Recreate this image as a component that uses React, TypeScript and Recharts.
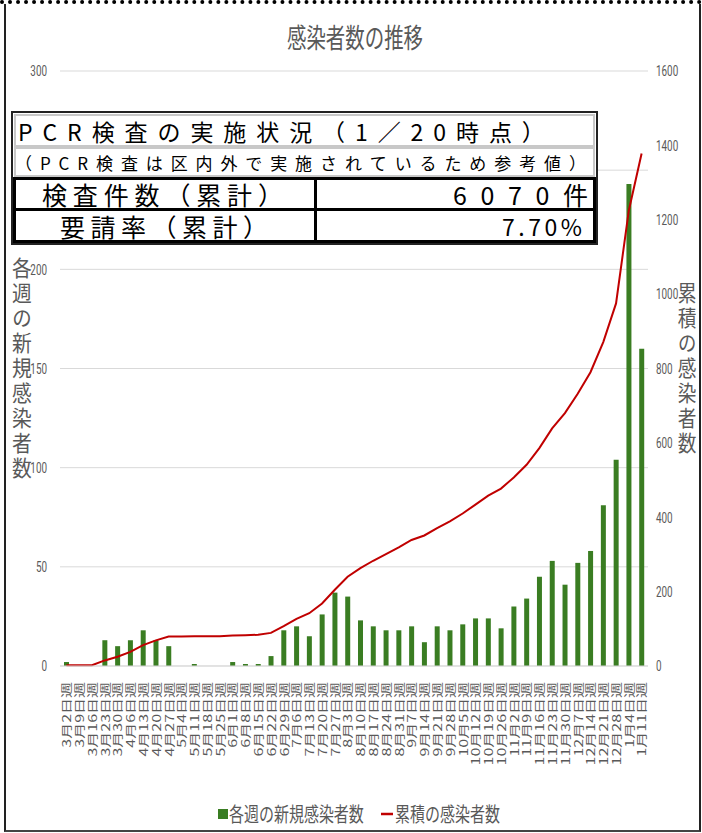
import React from 'react';
import { ComposedChart, Bar, Line, XAxis, YAxis, CartesianGrid } from 'recharts';

const weeks = [
  '3月2日週', '3月9日週', '3月16日週', '3月23日週', '3月30日週',
  '4月6日週', '4月13日週', '4月20日週', '4月27日週',
  '5月4日週', '5月11日週', '5月18日週', '5月25日週',
  '6月1日週', '6月8日週', '6月15日週', '6月22日週', '6月29日週',
  '7月6日週', '7月13日週', '7月20日週', '7月27日週',
  '8月3日週', '8月10日週', '8月17日週', '8月24日週', '8月31日週',
  '9月7日週', '9月14日週', '9月21日週', '9月28日週',
  '10月5日週', '10月12日週', '10月19日週', '10月26日週',
  '11月2日週', '11月9日週', '11月16日週', '11月23日週', '11月30日週',
  '12月7日週', '12月14日週', '12月21日週', '12月28日週',
  '1月4日週', '1月11日週',
];

const weeklyCases = [
  2, 0, 0, 13, 10, 13, 18, 13, 10, 0, 1, 0, 0, 2, 1, 1, 5, 18, 20, 15, 26, 37, 35,
  23, 20, 18, 18, 20, 12, 20, 18, 21, 24, 24, 19, 30, 34, 45, 53, 41, 52, 58, 81, 104, 243, 160,
];

const cumulativeCases = [
  2, 2, 2, 15, 25, 38, 56, 69, 79, 79, 80, 80, 80, 82, 83, 84, 89, 107, 127, 142, 168, 205, 240,
  263, 283, 301, 319, 339, 351, 371, 389, 410, 434, 458, 477, 507, 541, 586, 639, 680, 732, 790, 871, 975, 1225, 1378,
];

const leftTicks = [0, 50, 100, 150, 200, 250, 300];
const rightTicks = [0, 200, 400, 600, 800, 1000, 1200, 1400, 1600];

const titleText = '感染者数の推移';
const leftTitle = '各週の新規感染者数';
const rightTitle = '累積の感染者数';
const pcrTitle = 'PCR検査の実施状況（1／20時点）';
const pcrNote = '（PCR検査は区内外で実施されているため参考値）';
const rowLabels = ['検査件数（累計）', '要請率（累計）'];
const rowValues = ['6070件', '7.70%'];

const data = weeks.map((week, i) => ({ week, weekly: weeklyCases[i], total: cumulativeCases[i] }));

const JP = '"Noto Sans CJK JP", "Noto Sans", sans-serif';
const GRAY = '#595959';

// vertical week labels, squeezed across so neighbours don't touch
const WeekTick = ({ x, y, payload }: any) => (
  <text
    x={0}
    y={0}
    transform={`translate(${x},${y}) rotate(-90) scale(1,0.7)`}
    textAnchor="end"
    dominantBaseline="central"
    fontSize={16}
    fill={GRAY}
    fontFamily={JP}
  >
    {payload.value}
  </text>
);

const NumTick = ({ x, y, payload, anchor }: any) => (
  <text
    x={0}
    y={0}
    transform={`translate(${x},${y}) scale(0.66,1)`}
    textAnchor={anchor}
    dominantBaseline="central"
    fontSize={15}
    fill={GRAY}
    fontFamily="Roboto, sans-serif"
  >
    {payload.value}
  </text>
);

// spreads characters evenly over a box, like the Excel cells
const Spread = ({ text, left, top, width, height, size, bold }: any) => (
  <div
    style={{
      position: 'absolute', left, top, width, height, display: 'flex',
      justifyContent: 'space-between', alignItems: 'center', fontSize: size,
      fontFamily: JP, color: '#000', fontWeight: bold ? 700 : 400, lineHeight: 1,
    }}
  >
    {Array.from(text as string).map((ch, i) => <span key={i}>{ch}</span>)}
  </div>
);

const Cell = ({ left, top, width, height, border }: any) => (
  <div style={{ position: 'absolute', left, top, width, height, border, boxSizing: 'border-box' }} />
);

export default function App() {
  return (
    <div style={{ position: 'absolute', left: 0, top: 0, width: 702, height: 833, background: '#fff', overflow: 'hidden' }}>
      <div style={{ position: 'absolute', left: 0, top: 0, width: 702, height: 0, borderTop: '4px dotted #000' }} />
      <div style={{ position: 'absolute', left: 4, top: 4, width: 697, height: 828, borderLeft: '2px solid #222', borderRight: '2px solid #222', borderBottom: '2px solid #444', boxSizing: 'border-box' }} />

      <div style={{ position: 'absolute', left: 0, top: 0 }}>
        <ComposedChart width={702} height={833} data={data} margin={{ top: 71, right: 0, bottom: 0, left: 0 }}>
          <CartesianGrid yAxisId="left" vertical={false} stroke="#d9d9d9" />
          <XAxis
            dataKey="week"
            interval={0}
            height={167}
            tickLine={false}
            axisLine={{ stroke: '#d9d9d9' }}
            tickSize={6}
            tickMargin={10}
            tick={<WeekTick />}
          />
          <YAxis
            yAxisId="left"
            domain={[0, 300]}
            ticks={leftTicks}
            width={60}
            axisLine={false}
            tickLine={false}
            tickSize={8}
            tickMargin={5}
            tick={<NumTick anchor="end" />}
          />
          <YAxis
            yAxisId="right"
            orientation="right"
            domain={[0, 1600]}
            ticks={rightTicks}
            width={54}
            axisLine={false}
            tickLine={false}
            tickSize={4}
            tickMargin={4}
            tick={<NumTick anchor="start" />}
          />
          <Bar yAxisId="left" dataKey="weekly" fill="#3a7d22" barSize={5} isAnimationActive={false} />
          <Line yAxisId="right" type="linear" dataKey="total" stroke="#c00000" strokeWidth={2} dot={false} isAnimationActive={false} />
        </ComposedChart>
      </div>

      <svg width={702} height={833} style={{ position: 'absolute', left: 0, top: 0, pointerEvents: 'none' }}>
        <text transform="translate(355,48) scale(0.72,1)" textAnchor="middle" fontSize={27} fill={GRAY} fontFamily={JP}>
          {titleText}
        </text>
        <rect x={218} y={809} width={10} height={10} fill="#3a7d22" />
        <text transform="translate(229,822) scale(0.75,1)" fontSize={20} fill={GRAY} fontFamily={JP}>
          {leftTitle}
        </text>
        <line x1={381} x2={393} y1={814} y2={814} stroke="#c00000" strokeWidth={2.5} />
        <text transform="translate(395,822) scale(0.75,1)" fontSize={20} fill={GRAY} fontFamily={JP}>
          {rightTitle}
        </text>
      </svg>

      <div style={{ position: 'absolute', left: 11, top: 257, width: 22, writingMode: 'vertical-rl', fontSize: 22, letterSpacing: 3, lineHeight: 1, color: GRAY, fontFamily: JP, transform: 'scaleX(0.9)' }}>
        {leftTitle}
      </div>
      <div style={{ position: 'absolute', left: 676, top: 282, width: 22, writingMode: 'vertical-rl', fontSize: 22, letterSpacing: 3, lineHeight: 1, color: GRAY, fontFamily: JP, transform: 'scaleX(0.85)' }}>
        {rightTitle}
      </div>

      <div style={{ position: 'absolute', left: 11, top: 111, width: 587, height: 134, border: '2px solid #222', boxSizing: 'border-box', background: '#fff' }} />
      <Cell left={14} top={114} width={581} height={33} border="2px solid #c8c8c8" />
      <Cell left={14} top={147} width={581} height={30} border="2px solid #c8c8c8" />
      <Cell left={13} top={177} width={304} height={34} border="3px solid #000" />
      <Cell left={314} top={177} width={282} height={34} border="3px solid #000" />
      <Cell left={13} top={208} width={304} height={35} border="3px solid #000" />
      <Cell left={314} top={208} width={282} height={35} border="3px solid #000" />
      <Spread text={pcrTitle} left={18} top={116} width={527} height={30} size={23} />
      <Spread text={pcrNote} left={15} top={149} width={571} height={27} size={17} />
      <Spread text={rowLabels[0]} left={42} top={179} width={241} height={31} size={25} />
      <Spread text={rowValues[0]} left={453} top={179} width={135} height={31} size={25} />
      <Spread text={rowLabels[1]} left={60} top={211} width={208} height={31} size={25} />
      <Spread text={rowValues[1]} left={502} top={211} width={80} height={31} size={23} />
    </div>
  );
}
